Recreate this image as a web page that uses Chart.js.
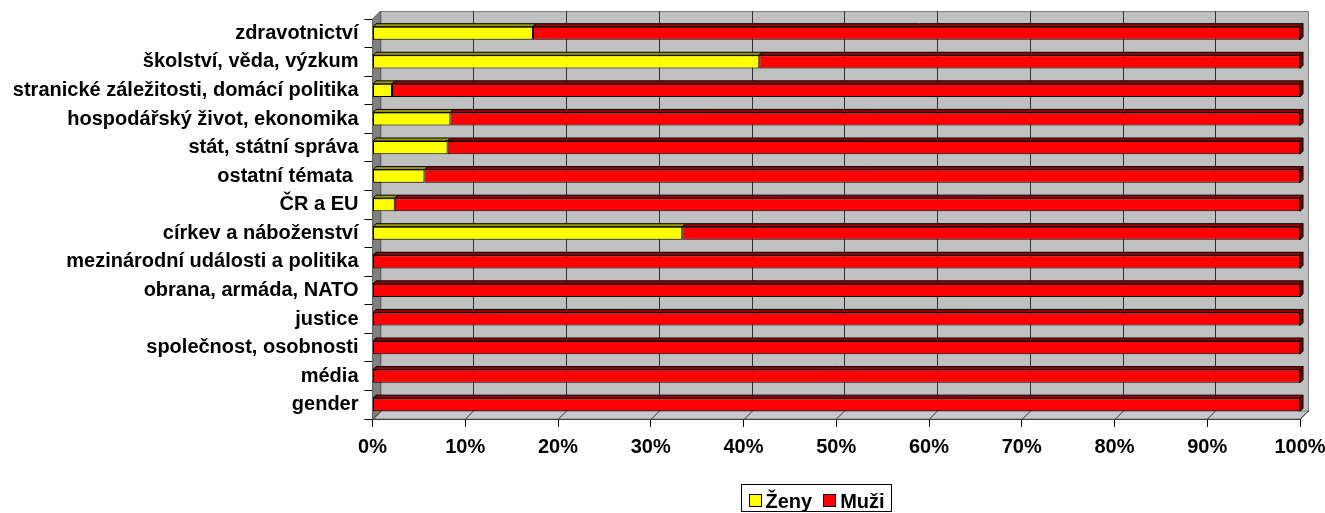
<!DOCTYPE html>
<html><head><meta charset="utf-8">
<script src="https://cdn.jsdelivr.net/npm/chart.js@4/dist/chart.umd.min.js"></script>
<style>html,body{margin:0;padding:0;background:#fff;}canvas{display:block;}</style>
</head><body>
<canvas id="c" width="1325" height="513"></canvas>
<script>
const categories = ["zdravotnictví","školství, věda, výzkum","stranické záležitosti, domácí politika","hospodářský život, ekonomika","stát, státní správa","ostatní témata ","ČR a EU","církev a náboženství","mezinárodní události a politika","obrana, armáda, NATO","justice","společnost, osobnosti","média","gender"];
const zeny = [17.3, 41.7, 2.1, 8.4, 8.1, 5.6, 2.4, 33.4, 0, 0, 0, 0, 0, 0];
const muzi = [82.7, 58.3, 97.9, 91.6, 91.9, 94.4, 97.6, 66.6, 100, 100, 100, 100, 100, 100];
const seriesNames = ["Ženy","Muži"];
const xTicks = [0,10,20,30,40,50,60,70,80,90,100];

const FONT = "'Liberation Sans', Arial, sans-serif";
const FS = 20;
const D = 8, d = 3;
const faceColors = [{top:'#999900'},{top:'#990000', side:'#800000'}];

const threeD = {
  id:'threeD',
  beforeDatasetsDraw(chart){
    const {ctx, chartArea:{left,right,top,bottom}} = chart;
    const xs = chart.scales.x;
    ctx.save();
    ctx.fillStyle='#c0c0c0'; ctx.strokeStyle='#808080'; ctx.lineWidth=1;
    ctx.fillRect(left+D, top-D, right-left, bottom-top);
    ctx.strokeRect(left+D+0.5, top-D+0.5, right-left, bottom-top);
    ctx.beginPath(); ctx.moveTo(left,bottom); ctx.lineTo(left+D,bottom-D); ctx.lineTo(right+D,bottom-D); ctx.lineTo(right,bottom); ctx.closePath();
    ctx.fillStyle='#c8c8c8'; ctx.fill(); ctx.strokeStyle='#808080'; ctx.stroke();
    ctx.beginPath(); ctx.moveTo(left,top); ctx.lineTo(left+D,top-D); ctx.lineTo(left+D,bottom-D); ctx.lineTo(left,bottom); ctx.closePath();
    ctx.fillStyle='#808080'; ctx.fill(); ctx.strokeStyle='#606060'; ctx.stroke();
    ctx.strokeStyle='#303030'; ctx.lineWidth=1;
    xTicks.forEach(v=>{
      const x = Math.round(xs.getPixelForValue(v))+0.5;
      ctx.beginPath();
      if(v>0 && v<100){ ctx.moveTo(x+D, top-D); ctx.lineTo(x+D, bottom-D); }
      ctx.moveTo(x+D, bottom-D); ctx.lineTo(x, bottom);
      ctx.stroke();
    });
    ctx.restore();
  },
  afterDatasetsDraw(chart){
    const {ctx} = chart;
    ctx.save(); ctx.strokeStyle='#000'; ctx.lineWidth=1;
    chart.data.datasets.forEach((ds,di)=>{
      const meta = chart.getDatasetMeta(di);
      meta.data.forEach((bar,i)=>{
        if(!ds.data[i]) return;
        const p = bar.getProps(['x','y','base','height'],true);
        const x0 = Math.min(p.base,p.x), x1 = Math.max(p.base,p.x);
        const t = p.y - p.height/2, b = p.y + p.height/2;
        ctx.beginPath(); ctx.moveTo(x0,t); ctx.lineTo(x0+d,t-d); ctx.lineTo(x1+d,t-d); ctx.lineTo(x1,t); ctx.closePath();
        ctx.fillStyle = faceColors[di].top; ctx.fill(); ctx.stroke();
        if(faceColors[di].side){
          ctx.beginPath(); ctx.moveTo(x1,t); ctx.lineTo(x1+d,t-d); ctx.lineTo(x1+d,b-d); ctx.lineTo(x1,b); ctx.closePath();
          ctx.fillStyle = faceColors[di].side; ctx.fill(); ctx.stroke();
        }
      });
    });
    ctx.restore();
  },
  afterDraw(chart){
    const {ctx} = chart;
    ctx.save();
    ctx.font = 'bold '+FS+'px '+FONT;
    const box = 13, gap = 4, itemGap = 11, pad = 7;
    const items = chart.data.datasets.map(ds=>({label:ds.label, color:ds.backgroundColor, w: ctx.measureText(ds.label).width}));
    let total = pad*2; items.forEach((it,i)=>{ total += box+gap+it.w + (i?itemGap:0); });
    total = Math.round(total);
    const cx = 816, y0 = 484, h = 27;
    const lx = Math.round(cx-total/2)+0.5;
    ctx.fillStyle='#fff'; ctx.fillRect(lx,y0+0.5,total,h);
    ctx.strokeStyle='#000'; ctx.lineWidth=1; ctx.strokeRect(lx,y0+0.5,total,h);
    let x = lx+pad;
    items.forEach((it,i)=>{
      if(i) x += itemGap;
      const bx = Math.round(x)+0.5;
      ctx.fillStyle=it.color; ctx.fillRect(bx, y0+10.5, box-1, box-1); ctx.strokeRect(bx, y0+10.5, box-1, box-1);
      x += box+gap;
      ctx.fillStyle='#000'; ctx.textBaseline='alphabetic'; ctx.fillText(it.label, x, y0+24);
      x += it.w;
    });
    ctx.restore();
  }
};

new Chart(document.getElementById('c'), {
  type:'bar',
  data:{ labels:categories, datasets:[
    {label:seriesNames[0], data:zeny, backgroundColor:'#ffff00', borderColor:'#000', borderWidth:1, borderSkipped:false, categoryPercentage:1, barPercentage:0.46},
    {label:seriesNames[1], data:muzi, backgroundColor:'#ff0000', borderColor:'#000', borderWidth:1, borderSkipped:false, categoryPercentage:1, barPercentage:0.46}
  ]},
  options:{
    indexAxis:'y', responsive:false, animation:false, devicePixelRatio:1,
    layout:{padding:{left:0,right:25,top:19,bottom:0}},
    plugins:{legend:{display:false}, tooltip:{enabled:false}},
    scales:{
      x:{ stacked:true, min:0, max:100,
        afterBuildTicks(s){ s.ticks = xTicks.map(v=>({value:v})); },
        afterFit(s){ s.height = 94; s.paddingLeft = 0; s.paddingRight = 0; },
        grid:{drawOnChartArea:false, drawTicks:true, tickLength:8, color:'#000'},
        border:{display:true, color:'#000'},
        ticks:{ color:'#000', padding:8, maxRotation:0, autoSkip:false, font:{family:FONT, size:FS, weight:'bold'}, callback:v=>v+'%'} },
      y:{ stacked:true,
        afterFit(s){ s.width = 372.5; s.paddingTop = 0; s.paddingBottom = 0; },
        grid:{drawOnChartArea:false, drawTicks:true, tickLength:8, color:'#000', offset:true},
        border:{display:true, color:'#000'},
        ticks:{ color:'#000', padding:6, autoSkip:false, font:{family:FONT, size:FS, weight:'bold'} } }
    }
  },
  plugins:[threeD]
});
</script>
</body></html>
